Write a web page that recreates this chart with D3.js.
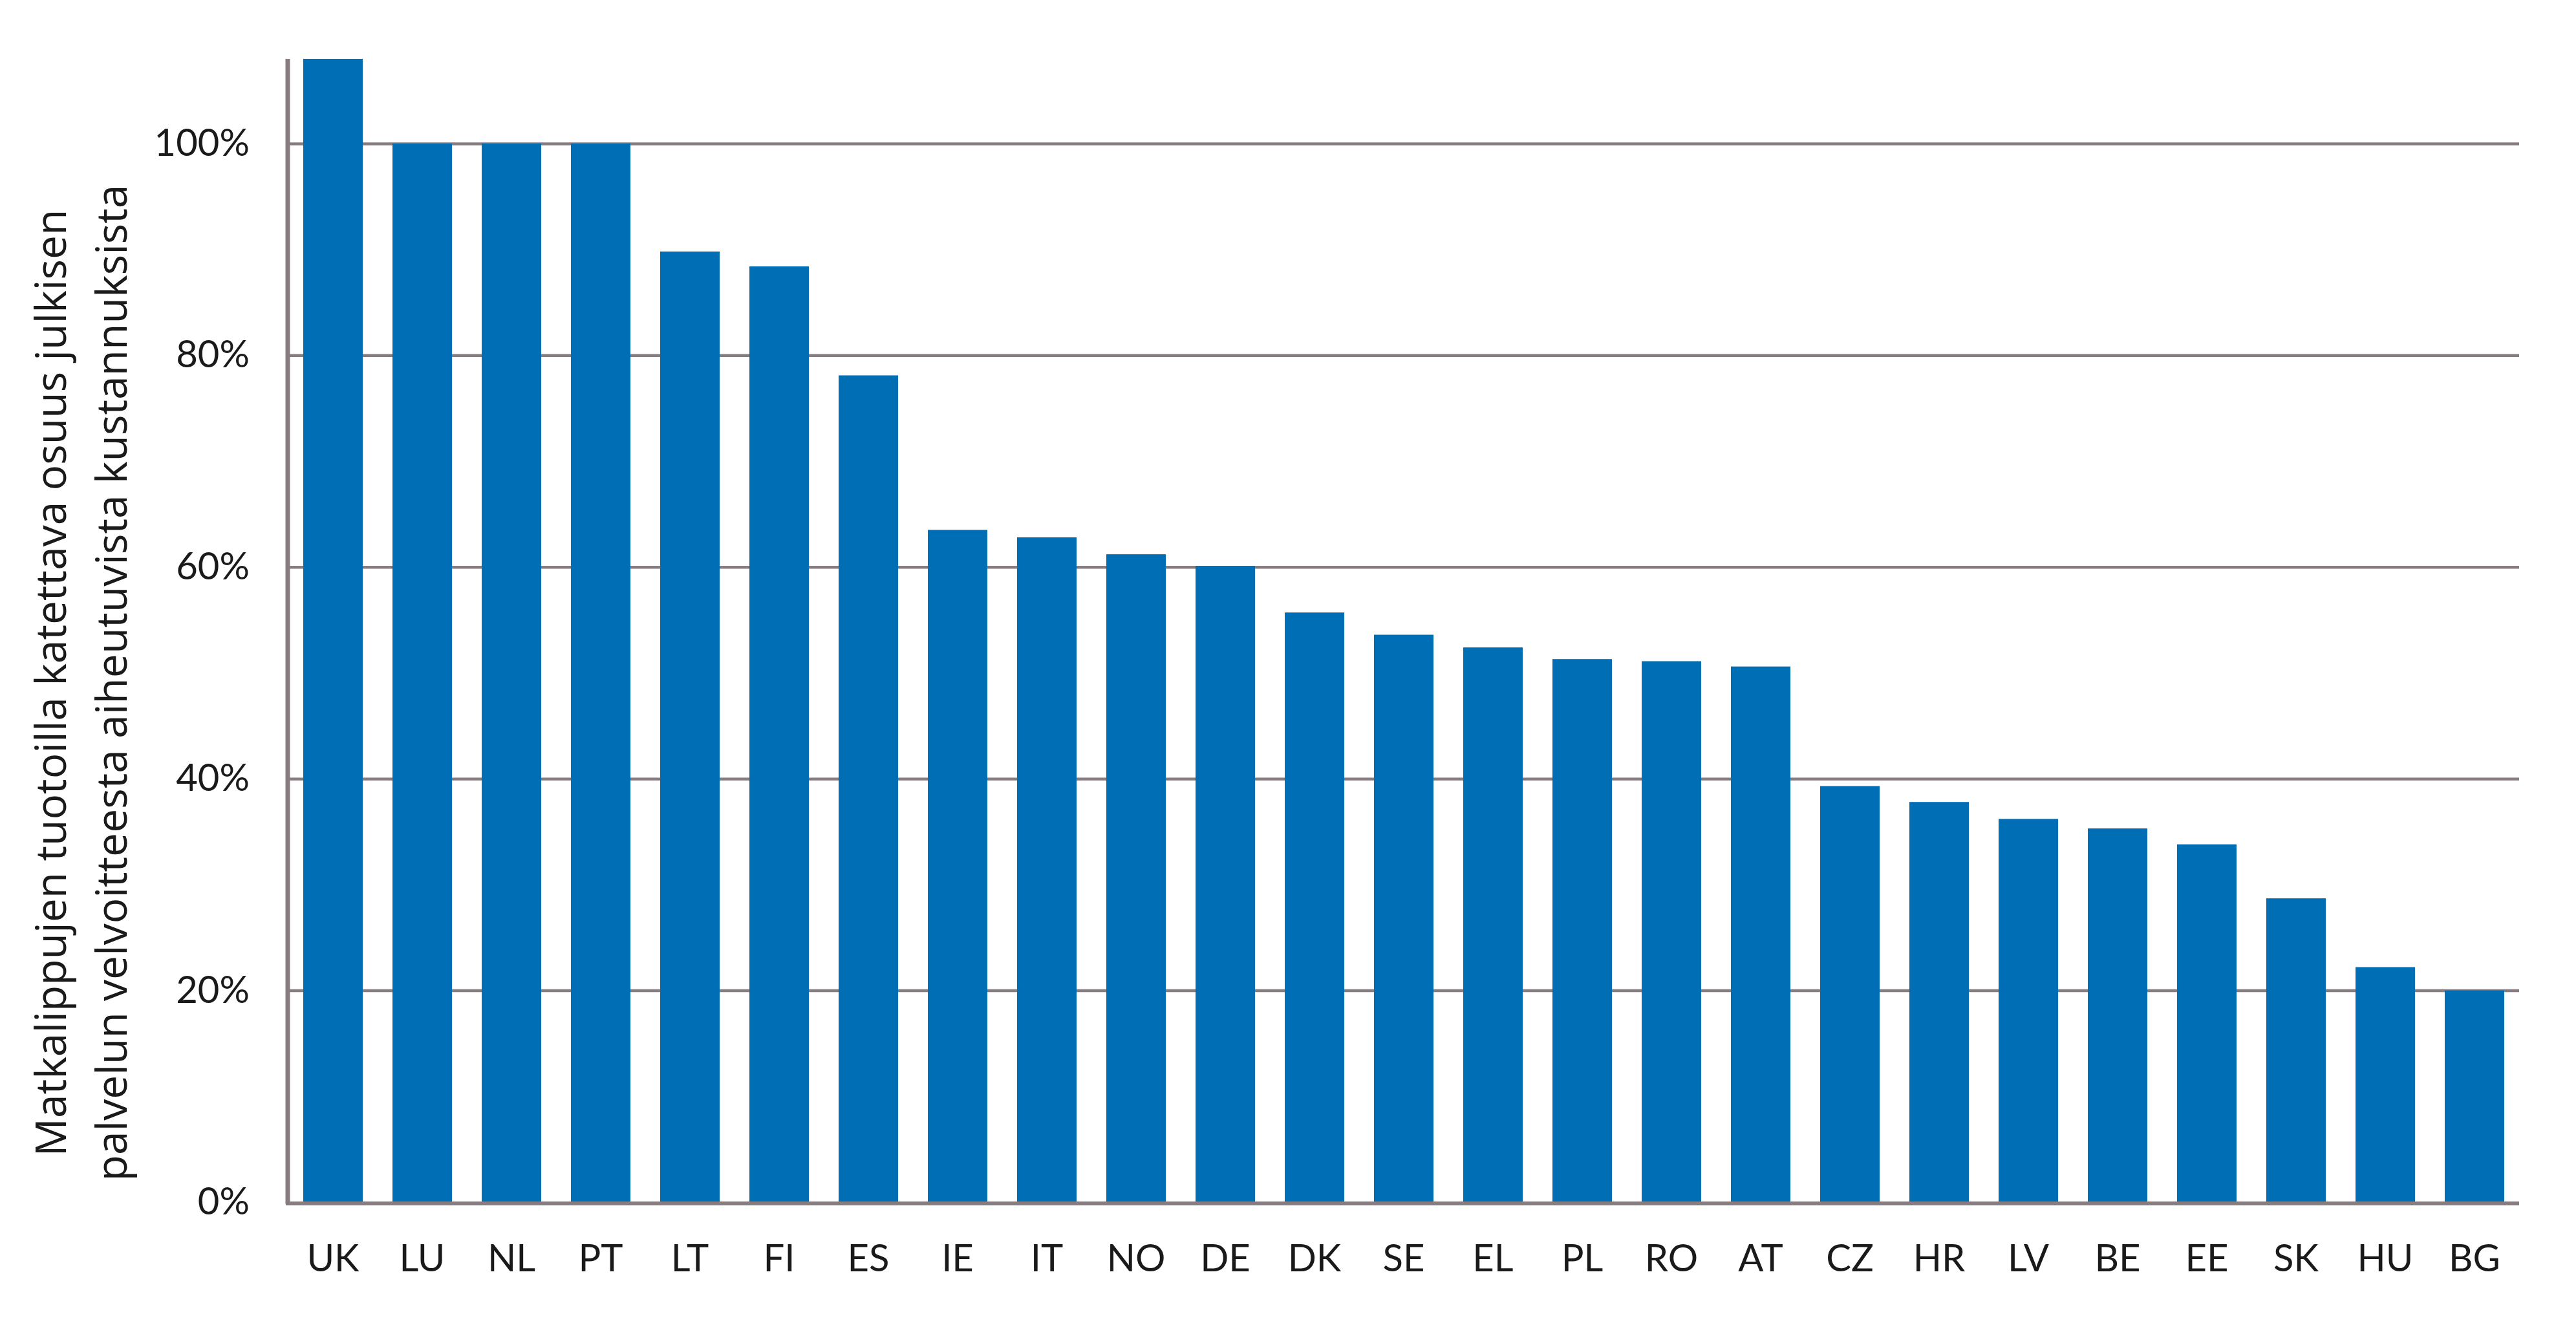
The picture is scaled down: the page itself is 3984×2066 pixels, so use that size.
<!DOCTYPE html>
<html>
<head>
<meta charset="utf-8">
<script src="https://cdn.jsdelivr.net/npm/d3@7"></script>
<style>
	html, body { margin: 0; padding: 0; background: #fff; }
	svg { display: block; }
</style>
</head>
<body>
<div id="chart"></div>
<script>
// Data
var countries = ["UK", "LU", "NL", "PT", "LT", "FI", "ES", "IE", "IT", "NO", "DE", "DK", "SE",
	"EL", "PL", "RO", "AT", "CZ", "HR", "LV", "BE", "EE", "SK", "HU", "BG"];
var shares = [108, 100, 100, 100, 89.8, 88.4, 78.1, 63.5, 62.8, 61.2, 60.1, 55.7, 53.6,
	52.4, 51.3, 51.1, 50.6, 39.3, 37.8, 36.2, 35.3, 33.8, 28.7, 22.2, 20.0];
var yTicks = [0, 20, 40, 60, 80, 100];
var titleLines = [
	"Matkalippujen tuotoilla katettava osuus julkisen",
	"palvelun velvoitteesta aiheutuvista kustannuksista"
];

var W = 3984, H = 2066;
var margin = {top: 91, right: 88, bottom: 207, left: 446};
var width = W - margin.left - margin.right,
	height = H - margin.top - margin.bottom;

var gridColor = "#877d80",
	barColor = "#006eb4",
	textColor = "#1a1a1a";

var svg = d3.select("#chart")
	.append("svg")
	.attr("width", W)
	.attr("height", H);

var g = svg.append("g")
	.attr("transform", "translate(" + margin.left + "," + margin.top + ")");

var x = d3.scaleBand()
	.domain(countries)
	.range([0, width])
	.paddingInner(1 / 3)
	.paddingOuter(1 / 6);

var y = d3.scaleLinear()
	.domain([0, d3.max(shares)])
	.range([height, 0]);

// y axis with gridlines
var yAxis = g.append("g")
	.call(d3.axisLeft(y)
		.tickValues(yTicks)
		.tickSizeInner(-width)
		.tickSizeOuter(0)
		.tickPadding(60)
		.tickFormat(function(d) { return d + "%"; }));
yAxis.select(".domain").remove();
yAxis.selectAll(".tick line")
	.attr("stroke", gridColor)
	.attr("stroke-width", 4.5)
	.filter(function(d) { return d === 0; }).remove();
yAxis.selectAll(".tick text")
	.attr("fill", textColor)
	.style("font-family", "Lato, 'Open Sans', sans-serif")
	.style("font-size", "58px");

// bars
g.selectAll(".bar")
	.data(shares)
	.enter()
	.append("rect")
	.attr("class", "bar")
	.attr("x", function(d, i) { return x(countries[i]); })
	.attr("y", function(d) { return y(d); })
	.attr("width", x.bandwidth())
	.attr("height", function(d) { return height - y(d); })
	.attr("fill", barColor);

// left axis line
g.append("line")
	.attr("x1", -1).attr("x2", -1)
	.attr("y1", 0).attr("y2", height + 3)
	.attr("stroke", gridColor)
	.attr("stroke-width", 7);

// x axis
var xAxis = g.append("g")
	.attr("transform", "translate(0," + height + ")")
	.call(d3.axisBottom(x).tickSize(0).tickPadding(66));
xAxis.select(".domain")
	.attr("d", "M-4,0H" + width)
	.attr("stroke", gridColor)
	.attr("stroke-width", 6)
	.attr("transform", "translate(0,2)");
xAxis.selectAll(".tick text")
	.attr("fill", textColor)
	.style("font-family", "Lato, 'Open Sans', sans-serif")
	.style("font-size", "58px");

// y axis title (two lines)
var title = svg.append("g")
	.attr("transform", "translate(0,1056) rotate(-90)");
title.selectAll("text")
	.data(titleLines)
	.enter()
	.append("text")
	.attr("x", 0)
	.attr("y", function(d, i) { return 102 + i * 94; })
	.attr("text-anchor", "middle")
	.attr("fill", textColor)
	.style("font-family", "'Open Sans', sans-serif")
	.style("font-size", "66px")
	.text(function(d) { return d; });
</script>
</body>
</html>
